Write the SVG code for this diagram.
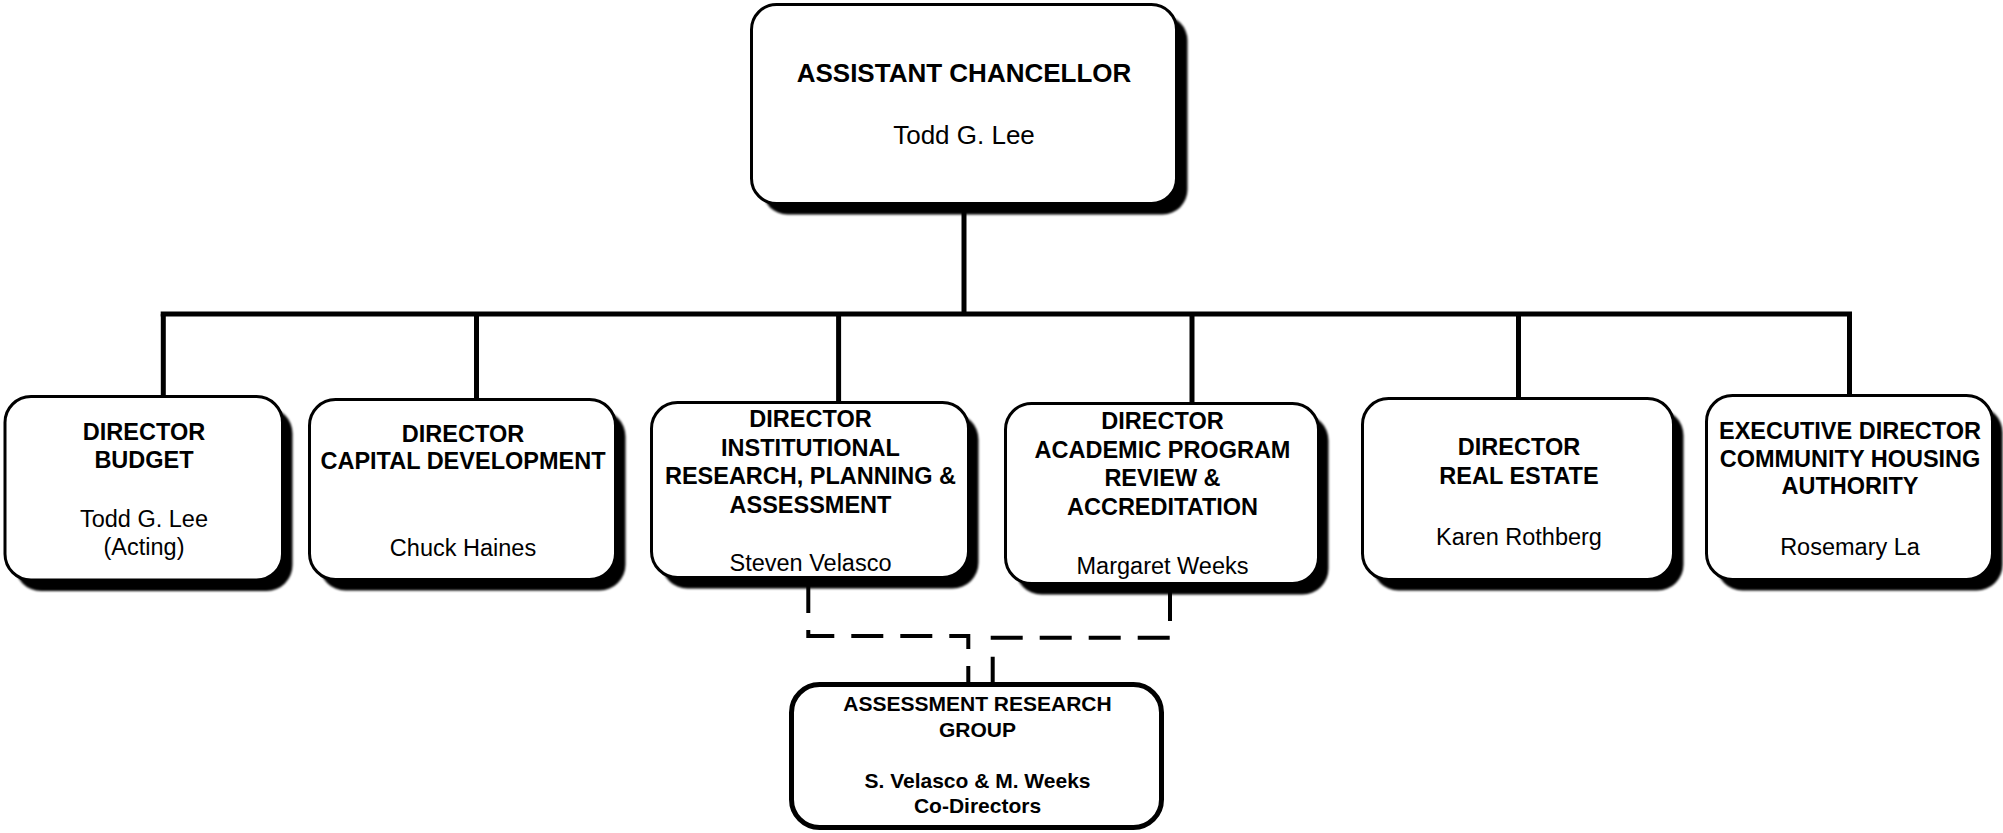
<svg xmlns="http://www.w3.org/2000/svg" width="2003" height="833" viewBox="0 0 2003 833">
<defs>
<filter id="soft" x="-5%" y="-5%" width="110%" height="110%"><feGaussianBlur stdDeviation="1.2"/></filter>
</defs>
<style>
.bg{fill:#fff}
.box{fill:#fff;stroke:#000;stroke-width:3}
.shadow{fill:#000;filter:url(#soft)}
.box2{fill:#fff;stroke:#000;stroke-width:5}
.conn{fill:none;stroke:#000;stroke-width:5;stroke-linecap:butt}
.dash{fill:none;stroke:#000;stroke-width:4;stroke-dasharray:32 17}
text{font-family:"Liberation Sans",Arial,sans-serif;fill:#000;text-anchor:middle}
.t{font-size:23.5px;font-weight:bold}
.n{font-size:23.5px}
.tt{font-size:26px;font-weight:bold}
.tn{font-size:26px}
.a{font-size:21px;font-weight:bold}
</style>
<rect class="bg" x="0" y="0" width="2003" height="833"/>
<g id="connectors">
<path class="conn" d="M964 205V314"/>
<path class="conn" d="M160.7 314H1852"/>
<path class="conn" d="M163.3 314V397"/>
<path class="conn" d="M476.5 314V400"/>
<path class="conn" d="M838.6 314V403"/>
<path class="conn" d="M1192 314V404"/>
<path class="conn" d="M1518.5 314V399"/>
<path class="conn" d="M1849.5 314V396"/>
<path class="dash" d="M808.3 581V636H968.3V683"/>
<path class="dash" d="M1170 589V637.7H992.7V683"/>
</g>
<g id="assistant-chancellor">
<rect class="shadow" x="762.5" y="15.5" width="425" height="199" rx="25"/>
<rect class="box" x="751.5" y="4.5" width="425" height="199" rx="25"/>
<text class="tt" x="964" y="82">ASSISTANT CHANCELLOR</text>
<text class="tn" x="964" y="144">Todd G. Lee</text>
</g>
<g id="director-budget">
<rect class="shadow" x="15" y="407.5" width="277.5" height="183.5" rx="26"/>
<rect class="box" x="5" y="396.5" width="277.5" height="183.5" rx="26"/>
<text class="t" x="144" y="440">DIRECTOR</text>
<text class="t" x="144" y="467.5">BUDGET</text>
<text class="n" x="144" y="527">Todd G. Lee</text>
<text class="n" x="144" y="554.5">(Acting)</text>
</g>
<g id="director-capital-development">
<rect class="shadow" x="319.5" y="410.5" width="306" height="180" rx="26"/>
<rect class="box" x="309.5" y="399.5" width="306" height="180" rx="26"/>
<text class="t" x="463" y="441.5">DIRECTOR</text>
<text class="t" x="463" y="469">CAPITAL DEVELOPMENT</text>
<text class="n" x="463" y="555.5">Chuck Haines</text>
</g>
<g id="director-institutional-research">
<rect class="shadow" x="661.5" y="413.5" width="317" height="175" rx="26"/>
<rect class="box" x="651.5" y="402.5" width="317" height="175" rx="26"/>
<text class="t" x="810.5" y="427">DIRECTOR</text>
<text class="t" x="810.5" y="455.5">INSTITUTIONAL</text>
<text class="t" x="810.5" y="484">RESEARCH, PLANNING &amp;</text>
<text class="t" x="810.5" y="512.5">ASSESSMENT</text>
<text class="n" x="810.5" y="570.5">Steven Velasco</text>
</g>
<g id="director-academic-program-review">
<rect class="shadow" x="1015.5" y="414.5" width="313" height="180" rx="26"/>
<rect class="box" x="1005.5" y="403.5" width="313" height="180" rx="26"/>
<text class="t" x="1162.5" y="429">DIRECTOR</text>
<text class="t" x="1162.5" y="457.5">ACADEMIC PROGRAM</text>
<text class="t" x="1162.5" y="486">REVIEW &amp;</text>
<text class="t" x="1162.5" y="514.5">ACCREDITATION</text>
<text class="n" x="1162.5" y="573.5">Margaret Weeks</text>
</g>
<g id="director-real-estate">
<rect class="shadow" x="1372.5" y="409.5" width="311" height="181" rx="26"/>
<rect class="box" x="1362.5" y="398.5" width="311" height="181" rx="26"/>
<text class="t" x="1519" y="455">DIRECTOR</text>
<text class="t" x="1519" y="484">REAL ESTATE</text>
<text class="n" x="1519" y="545">Karen Rothberg</text>
</g>
<g id="executive-director-housing">
<rect class="shadow" x="1716.5" y="406.5" width="286" height="184" rx="26"/>
<rect class="box" x="1706.5" y="395.5" width="286" height="184" rx="26"/>
<text class="t" x="1850" y="439">EXECUTIVE DIRECTOR</text>
<text class="t" x="1850" y="466.5">COMMUNITY HOUSING</text>
<text class="t" x="1850" y="494">AUTHORITY</text>
<text class="n" x="1850" y="555">Rosemary La</text>
</g>
<g id="assessment-research-group">
<rect class="box2" x="791.5" y="684.5" width="370" height="143" rx="28"/>
<text class="a" x="977.5" y="711">ASSESSMENT RESEARCH</text>
<text class="a" x="977.5" y="737">GROUP</text>
<text class="a" x="977.5" y="788">S. Velasco &amp; M. Weeks</text>
<text class="a" x="977.5" y="813">Co-Directors</text>
</g>
</svg>
